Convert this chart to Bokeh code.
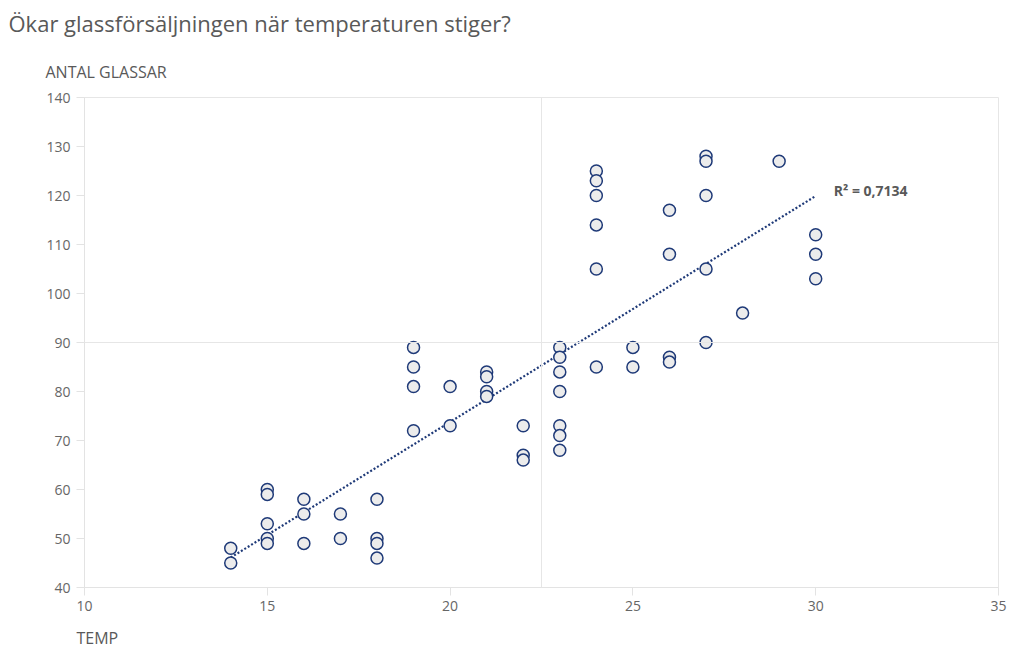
import numpy as np
from bokeh.plotting import figure
from bokeh.models import Label, Span, FixedTicker, Range1d, ColumnDataSource, Title
from bokeh.embed import file_html
from bokeh.resources import INLINE

# ---- data ----
temp = [14, 14,
        15, 15, 15, 15, 15,
        16, 16, 16,
        17, 17,
        18, 18, 18, 18,
        19, 19, 19, 19,
        20, 20,
        21, 21, 21, 21,
        22, 22, 22,
        23, 23, 23, 23, 23, 23, 23,
        24, 24, 24, 24, 24, 24,
        25, 25,
        26, 26, 26, 26,
        27, 27, 27, 27, 27,
        28,
        29,
        30, 30, 30]
glassar = [48, 45,
           60, 59, 53, 50, 49,
           58, 55, 49,
           55, 50,
           58, 50, 49, 46,
           89, 85, 81, 72,
           81, 73,
           84, 83, 80, 79,
           73, 67, 66,
           89, 87, 84, 80, 73, 71, 68,
           125, 123, 120, 114, 105, 85,
           89, 85,
           117, 108, 87, 86,
           128, 127, 120, 105, 90,
           96,
           127,
           112, 108, 103]
x_ticks = [10, 15, 20, 25, 30, 35]
y_ticks = [40, 50, 60, 70, 80, 90, 100, 110, 120, 130, 140]
title_text = "Ökar glassförsäljningen när temperaturen stiger?"
y_title = "ANTAL GLASSAR"
x_title = "TEMP"
r2_text = "R² = 0,7134"
quad_x = 22.5
quad_y = 90
x_min, x_max = 10, 35
y_min, y_max = 40, 140

FONT = "Open Sans"
GREY = "#666666"
NAVY = "#1f3a78"

p = figure(width=1016, height=663, output_backend="svg", toolbar_location=None,
           x_range=Range1d(x_min, x_max), y_range=Range1d(y_min, y_max),
           min_border_left=84, min_border_right=18, min_border_top=97, min_border_bottom=76)
p.title.visible = False
p.background_fill_color = "white"
p.border_fill_color = "white"
p.outline_line_color = "#e6e6e6"
p.outline_line_width = 1
p.xgrid.visible = False
p.ygrid.visible = False

for ax in (p.xaxis[0], p.yaxis[0]):
    ax.axis_line_color = "#e3e3e3"
    ax.major_tick_line_color = "#e3e3e3"
    ax.minor_tick_line_color = None
    ax.major_tick_in = 0
    ax.major_tick_out = 8
    ax.major_label_text_font = FONT
    ax.major_label_text_font_size = "14px"
    ax.major_label_text_color = GREY
p.xaxis.ticker = FixedTicker(ticks=x_ticks)
p.yaxis.ticker = FixedTicker(ticks=y_ticks)
p.xaxis.major_label_standoff = 5
p.yaxis.major_label_standoff = 6

p.add_layout(Span(location=quad_x, dimension="height", line_color="#e6e6e6", line_width=1))
p.add_layout(Span(location=quad_y, dimension="width", line_color="#e6e6e6", line_width=1))

# trend line (least squares)
slope, intercept = np.polyfit(temp, glassar, 1)
tx = [float(min(temp)), float(max(temp))]
ty = [float(slope * v + intercept) for v in tx]
p.line(tx, ty, line_color=NAVY, line_width=2.2, line_dash="2 2")

src = ColumnDataSource(dict(x=temp, y=glassar))
p.scatter("x", "y", source=src, size=12, fill_color="#ececec", line_color=NAVY, line_width=1.5)

p.add_layout(Label(x=tx[1], y=ty[1], text=r2_text, x_offset=18, y_offset=6,
                   text_font=FONT, text_font_size="14px", text_font_style="bold",
                   text_color="#595959", text_baseline="middle"))

p.add_layout(Title(text=y_title, align="left", offset=-39, standoff=30,
                   text_font=FONT, text_font_size="16px", text_color="#595959",
                   text_font_style="normal"), "above")
p.add_layout(Title(text=title_text, align="left", offset=-76, standoff=11,
                   text_font=FONT, text_font_size="22px", text_color="#595959",
                   text_font_style="normal"), "above")
p.add_layout(Title(text=x_title, align="left", offset=-8, standoff=22,
                   text_font=FONT, text_font_size="16px", text_color="#595959",
                   text_font_style="normal"), "below")

open("out.html", "w").write(file_html(p, INLINE))
